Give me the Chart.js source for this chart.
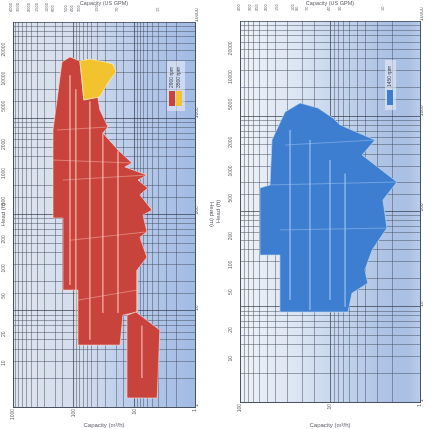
<!DOCTYPE html>
<html><head><meta charset="utf-8">
<script src="https://cdn.jsdelivr.net/npm/chart.js@4.4.1/dist/chart.umd.min.js"></script>
<style>
html,body{margin:0;padding:0;background:#fff;}
#wrap{position:relative;width:431px;height:429px;overflow:hidden;}
.box{position:absolute;top:0;height:429px;}
</style></head><body>
<div id="wrap">
<div class="box" style="left:0;width:215px"><canvas id="c1"></canvas></div>
<div class="box" style="left:215px;width:216px"><canvas id="c2"></canvas></div>
</div>
<script>
// ---------- DATA ----------
const seriesNames = ['2900 rpm', '3500 rpm', '1450 rpm'];
const flowTitle = 'Capacity (m³/h)';
const gpmTitle = 'Capacity (US GPM)';
const headFtTitle = 'Head (ft)';
const headMTitle = 'Head (m)';

const leftTopTicks = [4000, 3000, 2000, 1500, 1000, 800, 500, 400, 300, 150, 70, 15];
const rightTopTicks = [400, 300, 250, 200, 150, 100, 90, 70, 40, 30, 10];
const feetTicks = [10, 20, 50, 100, 200, 500, 1000, 2000, 5000, 10000, 20000];

// left chart: 2900 rpm envelope (m³/h, m)
const redMainX = [156, 115, 79, 68, 40, 37, 27.2, 33, 18.6, 10.9, 14.3, 6.2, 8.7, 6.0, 8.1, 5.1, 7.2, 6.2, 8.1, 6.2, 9.0, 9.0, 15.4, 17.2, 85, 85, 150, 150, 219, 219, 188, 156];
const redMainY = [3840, 4330, 3935, 1550, 1665, 1220, 811, 703, 468, 343, 312, 257, 228, 188, 160, 111, 99, 66, 58, 36, 26.5, 9.7, 9.0, 4.4, 4.4, 16.4, 16.4, 92, 92, 755, 1550, 3840];
const redBlockX = [13.2, 9.4, 3.8, 4.2, 13.2, 13.2];
const redBlockY = [9.0, 9.7, 6.3, 1.24, 1.24, 9.0];
// left chart: 3500 rpm envelope
const yellowX = [79, 54, 30.5, 22.5, 20, 25.2, 30.5, 37, 68, 73, 79];
const yellowY = [3935, 4130, 3840, 3660, 3025, 2500, 2060, 1665, 1550, 2500, 3935];
// internal curve boundaries, 2900 rpm
const redLine1X = [115, 115], redLine1Y = [2800, 18.5];
const redLine2X = [92, 92], redLine2Y = [2000, 5];
const redLine3X = [54, 54], redLine3Y = [1500, 5];
const redLine4X = [33, 33], redLine4Y = [700, 9.5];
const redLine5X = [18.6, 18.6], redLine5Y = [460, 9.5];
const redFan1X = [188, 27.2], redFan1Y = [755, 811];
const redFan2X = [219, 10.9], redFan2Y = [368, 343];
const redFan3X = [150, 6.2], redFan3Y = [228, 257];
const redFan4X = [115, 6.2], redFan4Y = [54, 66];
const redFan5X = [85, 9.0], redFan5Y = [12.9, 16.4];
const redFan6X = [7.5, 7.5], redFan6Y = [7, 2];

// right chart: 1450 rpm envelope
const blueX = [31.6, 21.5, 13.6, 9.3, 7.7, 3.16, 4.4, 1.80, 2.58, 2.33, 3.4, 4.1, 3.8, 5.7, 6.3, 36, 36, 60, 60, 46.4, 44.1, 31.6];
const blueY = [1109, 1377, 1222, 959, 809, 563, 392, 204, 132, 67, 39.4, 24.3, 17.7, 13.9, 8.8, 8.8, 34.9, 34.9, 177, 190, 563, 1109];
const blueLine1X = [27.8, 27.8], blueLine1Y = [718, 11.8];
const blueLine2X = [16.7, 16.7], blueLine2Y = [563, 9.2];
const blueLine3X = [10, 10], blueLine3Y = [347, 11.8];
const blueLine4X = [6.8, 6.8], blueLine4Y = [250, 10];
const blueFan1X = [31.6, 3.16], blueFan1Y = [499, 563];
const blueFan2X = [46.4, 1.8], blueFan2Y = [190, 204];
const blueFan3X = [36, 2.33], blueFan3Y = [64, 67];

// ---------- HELPERS ----------
const pts = (xs, ys) => xs.map((x, i) => ({x, y: ys[i]}));
const isPow10 = v => v > 0 && Math.abs(Math.log10(v) - Math.round(Math.log10(v))) < 1e-6;
const FONT = 'Liberation Sans, Arial, sans-serif';
const TXT = '#5c6068';
const gridColor = c => (c.tick && isPow10(c.tick.value)) ? 'rgba(45,52,66,0.95)' : 'rgba(70,80,96,0.7)';

function poly(label, xs, ys, fillCol, edge) {
  return {label, data: pts(xs, ys), fill: 'shape', backgroundColor: fillCol, borderColor: edge,
    borderWidth: 0.8, pointRadius: 0, tension: 0, xAxisID: 'x', yAxisID: 'y'};
}
function line(xs, ys, col) {
  return {label: '', data: pts(xs, ys), fill: false, borderColor: col, borderWidth: 0.8,
    pointRadius: 0, tension: 0, xAxisID: 'x', yAxisID: 'y'};
}

function bgPlugin(stops) {
  return {id: 'bg', beforeDraw(chart) {
    const a = chart.chartArea, ctx = chart.ctx;
    const g = ctx.createLinearGradient(a.left, 0, a.right, 0);
    stops.forEach(s => g.addColorStop(s[0], s[1]));
    ctx.save(); ctx.fillStyle = g; ctx.fillRect(a.left, a.top, a.right - a.left, a.bottom - a.top); ctx.restore();
  }};
}
function legendPlugin(items, dxFromRight, dyFromTop) {
  return {id: 'lg', afterDatasetsDraw(chart) {
    const a = chart.chartArea, ctx = chart.ctx;
    const x0 = a.right - dxFromRight, y0 = a.top + dyFromTop;
    const w = items.length * 7 + 4;
    ctx.save();
    ctx.fillStyle = 'rgba(236,241,250,0.55)';
    ctx.fillRect(x0 - 2, y0 - 3, w, 50);
    ctx.font = '5px ' + FONT; ctx.fillStyle = '#3a4150'; ctx.textBaseline = 'middle';
    items.forEach((it, i) => {
      const cx = x0 + 3 + i * 7;
      ctx.save(); ctx.translate(cx, y0 + 24); ctx.rotate(-Math.PI / 2);
      ctx.textAlign = 'left'; ctx.fillText(it.label, 0, 0); ctx.restore();
      ctx.fillStyle = it.color; ctx.fillRect(cx - 3, y0 + 27, 6, 15);
      ctx.fillStyle = '#3a4150';
    });
    ctx.restore();
  }};
}

function scalesFor(cfg) {
  return {
    x: {type: 'logarithmic', position: 'bottom', reverse: true, min: cfg.xmin, max: cfg.xmax,
      ticks: {autoSkip: false, minRotation: 90, maxRotation: 90, padding: 2, color: TXT, font: {size: 5, family: FONT},
        callback: v => isPow10(v) ? String(v) : ''},
      grid: {color: gridColor, lineWidth: 0.7, drawTicks: false},
      border: {color: '#4a5160', width: 1},
      title: {display: true, text: flowTitle, color: TXT, font: {size: 6, family: FONT}, padding: 0},
      afterFit(s) { s.height = cfg.bottomH; s.paddingLeft = 0; s.paddingRight = 0; }},
    x2: {type: 'logarithmic', position: 'top', reverse: true, min: cfg.xmin * 4.403, max: cfg.xmax * 4.403,
      afterBuildTicks(s) { s.ticks = cfg.topTicks.map(v => ({value: v})); },
      ticks: {autoSkip: false, minRotation: 90, maxRotation: 90, padding: 2, color: TXT, font: {size: 4, family: FONT},
        callback: v => String(v)},
      grid: {display: false}, border: {display: false},
      title: {display: true, text: gpmTitle, color: TXT, font: {size: 5.5, family: FONT}, padding: 0},
      afterFit(s) { s.height = cfg.topH; s.paddingLeft = 0; s.paddingRight = 0; }},
    y: {type: 'logarithmic', position: 'right', min: 1, max: 10000,
      ticks: {autoSkip: false, padding: 2, minRotation: 90, maxRotation: 90, color: TXT, font: {size: 5, family: FONT},
        callback: v => isPow10(v) ? String(v) : ''},
      grid: {color: gridColor, lineWidth: 0.7, drawTicks: false},
      border: {color: '#4a5160', width: 1},
      title: {display: cfg.rightTitle, text: headMTitle, color: TXT, font: {size: 6, family: FONT}, padding: 0},
      afterFit(s) { s.width = cfg.rightW; s.paddingTop = 0; s.paddingBottom = 0; }},
    yft: {type: 'logarithmic', position: 'left', min: 3.281, max: 32810,
      afterBuildTicks(s) { s.ticks = feetTicks.map(v => ({value: v})); },
      ticks: {autoSkip: false, padding: 1, minRotation: 90, maxRotation: 90, color: TXT, font: {size: 5, family: FONT}, callback: v => String(v)},
      grid: {display: false}, border: {color: '#4a5160', width: 1},
      title: {display: true, text: headFtTitle, color: TXT, font: {size: 6, family: FONT}, padding: 0},
      afterFit(s) { s.width = cfg.leftW; s.paddingTop = 0; s.paddingBottom = 0; }}
  };
}
const baseOpts = (cfg) => ({
  responsive: true, maintainAspectRatio: false, animation: false,
  layout: {padding: 0},
  plugins: {legend: {display: false}, tooltip: {enabled: false}},
  scales: scalesFor(cfg)
});

const redFill = '#c8433b', redEdge = 'rgba(255,222,212,0.75)', redInner = 'rgba(255,205,195,0.55)';
const yelFill = '#f3c22f', yelEdge = 'rgba(255,245,200,0.8)';
const blueFill = '#3e7ed0', blueEdge = 'rgba(190,215,245,0.8)', blueInner = 'rgba(165,200,245,0.6)';

new Chart(document.getElementById('c1'), {
  type: 'line',
  data: {datasets: [
    line(redLine1X, redLine1Y, redInner), line(redLine2X, redLine2Y, redInner), line(redLine3X, redLine3Y, redInner),
    line(redLine4X, redLine4Y, redInner), line(redLine5X, redLine5Y, redInner),
    line(redFan1X, redFan1Y, redInner), line(redFan2X, redFan2Y, redInner), line(redFan3X, redFan3Y, redInner),
    line(redFan4X, redFan4Y, redInner), line(redFan5X, redFan5Y, redInner), line(redFan6X, redFan6Y, redInner),
    poly(seriesNames[1], yellowX, yellowY, yelFill, yelEdge),
    poly(seriesNames[0], redBlockX, redBlockY, redFill, redEdge),
    poly(seriesNames[0], redMainX, redMainY, redFill, redEdge)
  ]},
  options: baseOpts({xmin: 1, xmax: 1000, topTicks: leftTopTicks, bottomH: 22, topH: 22, leftW: 13, rightW: 20, rightTitle: true}),
  plugins: [bgPlugin([[0, '#dfe5ef'], [0.4, '#d3dcec'], [0.55, '#c3d2ec'], [0.8, '#afc4e8'], [1, '#a2bbe5']]),
            legendPlugin([{label: seriesNames[0], color: redFill}, {label: seriesNames[1], color: yelFill}], 26, 42)]
});

new Chart(document.getElementById('c2'), {
  type: 'line',
  data: {datasets: [
    line(blueLine1X, blueLine1Y, blueInner), line(blueLine2X, blueLine2Y, blueInner), line(blueLine3X, blueLine3Y, blueInner),
    line(blueLine4X, blueLine4Y, blueInner), line(blueFan1X, blueFan1Y, blueInner), line(blueFan2X, blueFan2Y, blueInner),
    line(blueFan3X, blueFan3Y, blueInner),
    poly(seriesNames[2], blueX, blueY, blueFill, blueEdge)
  ]},
  options: baseOpts({xmin: 1, xmax: 100, topTicks: rightTopTicks, bottomH: 27, topH: 21, leftW: 25, rightW: 11, rightTitle: false}),
  plugins: [bgPlugin([[0, '#eef2f8'], [0.3, '#dde6f3'], [0.55, '#c5d5ed'], [0.8, '#aec3e5'], [0.93, '#a9bfe3'], [1, '#bacde8']]),
            legendPlugin([{label: seriesNames[2], color: blueFill}], 33, 42)]
});
</script>
</body></html>
